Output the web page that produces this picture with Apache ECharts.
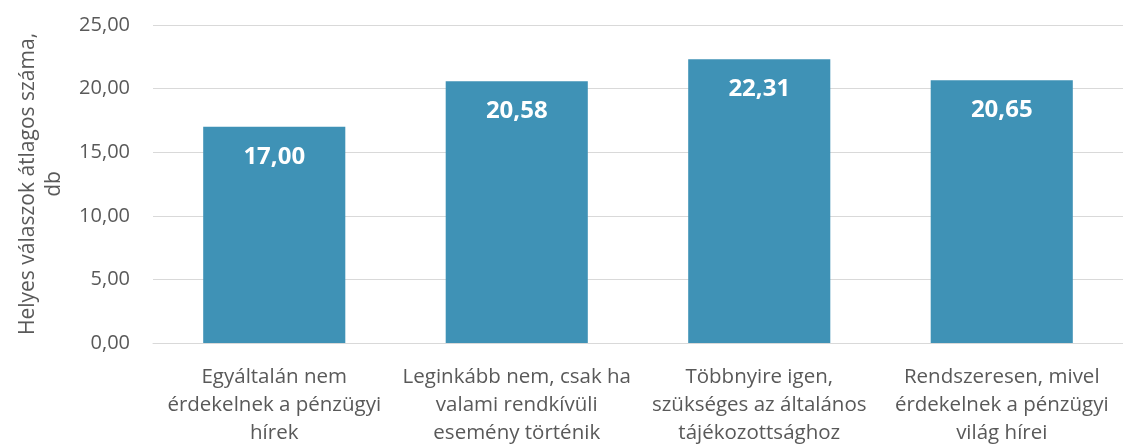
<!DOCTYPE html>
<html>
<head>
<meta charset="utf-8">
<script src="https://cdn.jsdelivr.net/npm/echarts@6/dist/echarts.min.js"></script>
<style>
  html, body { margin: 0; padding: 0; background: #fff; }
  #container { width: 1123px; height: 447px; }
</style>
</head>
<body>
<div id="container"></div>
<script>
  // kategóriák és értékek
  const categories = [
    'Egyáltalán nem\nérdekelnek a pénzügyi\nhírek',
    'Leginkább nem, csak ha\nvalami rendkívüli\nesemény történik',
    'Többnyire igen,\nszükséges az általános\ntájékozottsághoz',
    'Rendszeresen, mivel\nérdekelnek a pénzügyi\nvilág hírei'
  ]
  const values = [17.00, 20.58, 22.31, 20.65]
  const yTicks = { min: 0, max: 25, interval: 5 }
  const yName = 'Helyes válaszok átlagos száma,\ndb'

  const fmt = v => Number(v).toFixed(2).replace('.', ',')
  const textColor = '#595959'
  const font = '"Open Sans", sans-serif'

  const myChart = echarts.init(document.getElementById('container'))
  myChart.setOption({
    animation: false,
    textStyle: { fontFamily: font },
    grid: {
      left: 153,
      top: 25,
      width: 984,
      height: 322
    },
    xAxis: {
      type: 'category',
      data: categories,
      axisTick: { show: false },
      axisLine: { lineStyle: { color: '#d9d9d9', width: 1 } },
      axisLabel: {
        color: textColor,
        fontSize: 20.5,
        fontFamily: font,
        lineHeight: 28,
        margin: 20,
        interval: 0
      }
    },
    yAxis: {
      type: 'value',
      min: yTicks.min,
      max: yTicks.max,
      interval: yTicks.interval,
      name: yName,
      nameLocation: 'middle',
      nameGap: 86,
      nameTextStyle: {
        color: textColor,
        fontSize: 21,
        fontFamily: font,
        lineHeight: 26
      },
      axisLine: { show: false },
      axisTick: { show: false },
      splitLine: { lineStyle: { color: '#d9d9d9', width: 1 } },
      axisLabel: {
        color: textColor,
        fontSize: 20,
        fontFamily: font,
        margin: 23,
        formatter: fmt
      }
    },
    series: [{
      type: 'bar',
      data: values,
      barWidth: '58.6%',
      itemStyle: { color: '#3f92b6' },
      label: {
        show: true,
        position: 'insideTop',
        distance: 18,
        color: '#ffffff',
        fontWeight: 'bold',
        fontSize: 24,
        fontFamily: font,
        formatter: p => fmt(p.value)
      }
    }]
  })
</script>
</body>
</html>
